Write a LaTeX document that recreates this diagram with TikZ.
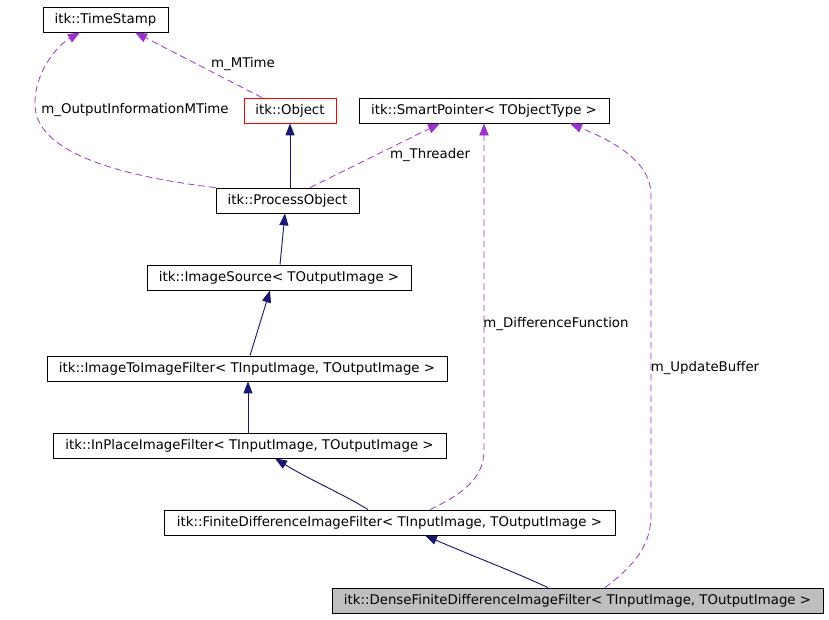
\documentclass[tikz,border=0pt]{standalone}
\usepackage{fontspec}
\setmainfont{DejaVu Sans}
\usepackage{xcolor}
\definecolor{dxnavy}{RGB}{25,25,112}
\definecolor{dxpurple}{RGB}{154,50,205}
\definecolor{dxgray}{RGB}{191,191,191}
\usetikzlibrary{arrows.meta, calc}

\begin{document}
\begin{tikzpicture}[x=0.75pt, y=-0.75pt,
    cls/.style={draw=black, line width=0.6pt, inner sep=0pt, minimum height=18.75pt,
                font=\fontsize{10}{12}\selectfont},
    inh/.style={dxnavy, line width=0.7pt, -{Triangle[length=9pt,width=6.8pt]}},
    use/.style={dxpurple, line width=0.6pt, dash pattern=on 5pt off 3pt,
                -{Triangle[length=9pt,width=7pt]}},
    lbl/.style={font=\fontsize{10}{12}\selectfont, inner sep=0pt}]
  \useasboundingbox (0,0) rectangle (829,619);
  % Classes
  \node[cls, minimum width={125*0.75pt}] (stamp) at (105.5,19.5) {itk::TimeStamp};
  \node[cls, draw=red, minimum width={92*0.75pt}] (obj) at (290,110.5) {itk::Object};
  \node[cls, minimum width={250*0.75pt}] (sptr) at (484,110.5) {itk::SmartPointer< TObjectType >};
  \node[cls, minimum width={143*0.75pt}] (procobj) at (287.5,200.5) {itk::ProcessObject};
  \node[cls, minimum width={264*0.75pt}] (imgsrc) at (279,277.5) {itk::ImageSource< TOutputImage >};
  \node[cls, minimum width={400*0.75pt}] (img2img) at (247,368.5) {itk::ImageToImageFilter< TInputImage, TOutputImage >};
  \node[cls, minimum width={393*0.75pt}] (inplace) at (249.5,445.5) {itk::InPlaceImageFilter< TInputImage, TOutputImage >};
  \node[cls, minimum width={451*0.75pt}] (findiff) at (389.5,522.5) {itk::FiniteDifferenceImageFilter< TInputImage, TOutputImage >};
  \node[cls, fill=dxgray, minimum width={491*0.75pt}] (dense) at (577.5,600.5) {itk::DenseFiniteDifferenceImageFilter< TInputImage, TOutputImage >};
  % Inheritance
  \draw[inh] (procobj.north -| obj.south) -- (obj.south);
  \draw[inh] ($(imgsrc.north)+(1,0)$) -- ($(procobj.south)+(-2.5,0)$);
  \draw[inh] ($(img2img.north)+(3,0)$) -- ($(imgsrc.south)+(-9,0)$);
  \draw[inh] ($(inplace.north)+(-1.5,0)$) -- ($(img2img.south)+(1,0)$);
  \draw[inh] ($(findiff.north)+(-21.5,0)$) .. controls (345,495) and (310,480) .. ($(inplace.south)+(25.5,0)$);
  \draw[inh] ($(dense.north)+(-29.5,0)$) .. controls (510,570) and (470,555) .. ($(findiff.south)+(35.5,0)$);
  % Members
  \draw[use] ($(obj.north)+(-28,0)$) -- ($(stamp.south)+(29.5,0)$);
  \node[lbl] (lblmt) at (243,64) {m\_MTime};
  \draw[use] (procobj.north west) .. controls (110,175) and (36,150) .. (35,105)
    .. controls (34,72) and (58,45) .. ($(stamp.south)+(-25.5,0)$);
  \node[lbl] (lblout) at (135,110) {m\_OutputInformationMTime};
  \draw[use] ($(procobj.north)+(22.5,0)$) -- ($(sptr.south)+(-44,0)$);
  \node[lbl] (lblthr) at (430,155) {m\_Threader};
  \draw[use] ($(findiff.north)+(40.5,0)$) .. controls (460,495) and (484,480) .. (484,450)
    -- (sptr.south);
  \node[lbl] (lbldiff) at (556,324) {m\_DifferenceFunction};
  \draw[use] ($(dense.north)+(27.5,0)$) .. controls (635,565) and (651,545) .. (651,515)
    -- (651,195) .. controls (651,160) and (610,140) .. ($(sptr.south)+(86,0)$);
  \node[lbl] (lblbuf) at (705,368) {m\_UpdateBuffer};
\end{tikzpicture}
\end{document}
